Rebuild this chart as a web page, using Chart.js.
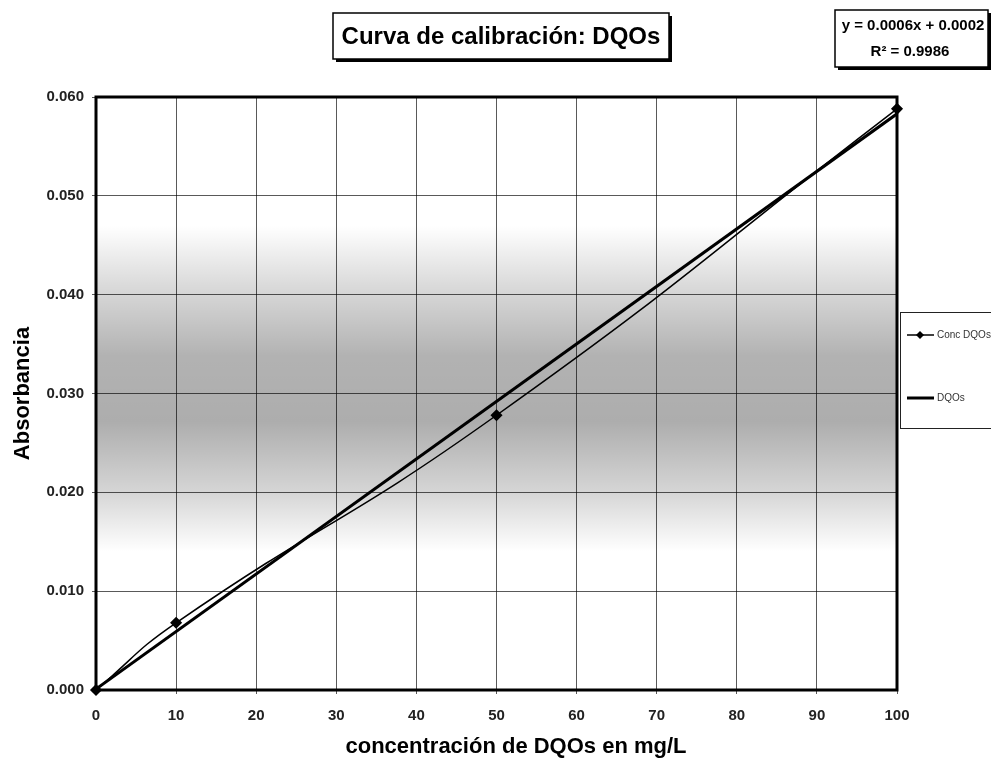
<!DOCTYPE html>
<html>
<head>
<meta charset="utf-8">
<script src="https://cdn.jsdelivr.net/npm/chart.js@4.4.0/dist/chart.umd.min.js"></script>
<style>
  html, body { margin: 0; padding: 0; background: #fff; }
  #wrap { width: 991px; height: 762px; position: relative; }
</style>
</head>
<body>
<div id="wrap"><canvas id="calChart"></canvas></div>
<script>
// data
const concX = [0, 10, 50, 100];
const absorb = [0.0000, 0.0068, 0.0278, 0.0588];
const trendX = [0, 100];
const trendY = [0.0001, 0.0583];
const xTicks = [0, 10, 20, 30, 40, 50, 60, 70, 80, 90, 100];
const yTicks = [0.000, 0.010, 0.020, 0.030, 0.040, 0.050, 0.060];

const FONT = '"Liberation Sans", Arial, sans-serif';

function toPts(xs, ys) {
  return xs.map((x, i) => ({ x: x, y: ys[i] }));
}

// grey scan band behind the grid + white page
const bandPlugin = {
  id: 'band',
  beforeDraw(chart) {
    const { ctx, chartArea: a, scales: { y } } = chart;
    ctx.save();
    ctx.fillStyle = '#fff';
    ctx.fillRect(0, 0, chart.width, chart.height);
    const top = y.getPixelForValue(0.047);
    const bot = y.getPixelForValue(0.014);
    const g = ctx.createLinearGradient(0, top, 0, bot);
    g.addColorStop(0, 'rgba(0,0,0,0)');
    g.addColorStop(0.18, 'rgba(0,0,0,0.14)');
    g.addColorStop(0.4, 'rgba(0,0,0,0.3)');
    g.addColorStop(0.6, 'rgba(0,0,0,0.32)');
    g.addColorStop(0.82, 'rgba(0,0,0,0.16)');
    g.addColorStop(1, 'rgba(0,0,0,0)');
    ctx.fillStyle = g;
    ctx.fillRect(a.left, top, a.right - a.left, bot - top);
    ctx.restore();
  }
};

function boxWithShadow(ctx, x, y, w, h) {
  ctx.fillStyle = '#000';
  ctx.fillRect(x + 3, y + 3, w, h);
  ctx.fillStyle = '#fff';
  ctx.fillRect(x, y, w, h);
  ctx.strokeStyle = '#000';
  ctx.lineWidth = 1.5;
  ctx.strokeRect(x, y, w, h);
}

// plot frame, title box, equation box, legend, x title
const decorPlugin = {
  id: 'decor',
  afterDraw(chart) {
    const { ctx, chartArea: a } = chart;
    ctx.save();
    ctx.strokeStyle = '#000';
    ctx.lineWidth = 3;
    ctx.strokeRect(a.left, a.top, a.right - a.left, a.bottom - a.top);

    // title
    boxWithShadow(ctx, 333, 13, 336, 46);
    ctx.fillStyle = '#000';
    ctx.textAlign = 'center';
    ctx.textBaseline = 'middle';
    ctx.font = 'bold 24px ' + FONT;
    ctx.fillText('Curva de calibración: DQOs', 501, 37);

    // trendline equation
    boxWithShadow(ctx, 835, 10, 153, 57);
    ctx.fillStyle = '#000';
    ctx.font = 'bold 15px ' + FONT;
    ctx.fillText('y = 0.0006x + 0.0002', 913, 26);
    ctx.fillText('R² = 0.9986', 910, 52);

    // x axis title
    ctx.font = 'bold 22px ' + FONT;
    ctx.fillText('concentración de DQOs en mg/L', 516, 747);

    // legend
    ctx.fillStyle = '#fff';
    ctx.fillRect(900, 312, 100, 116);
    ctx.strokeStyle = '#222';
    ctx.lineWidth = 1;
    ctx.strokeRect(900.5, 312.5, 100, 116);
    const items = chart.data.datasets;
    const rows = [335, 398];
    items.forEach((ds, i) => {
      const yy = rows[i];
      ctx.strokeStyle = '#000';
      ctx.lineWidth = ds.borderWidth;
      ctx.beginPath();
      ctx.moveTo(907, yy);
      ctx.lineTo(934, yy);
      ctx.stroke();
      if (ds.pointRadius > 0) {
        ctx.fillStyle = '#000';
        ctx.beginPath();
        ctx.moveTo(920, yy - 4);
        ctx.lineTo(924, yy);
        ctx.lineTo(920, yy + 4);
        ctx.lineTo(916, yy);
        ctx.closePath();
        ctx.fill();
      }
      ctx.fillStyle = '#333';
      ctx.font = '10px ' + FONT;
      ctx.textAlign = 'left';
      ctx.fillText(ds.label, 937, yy);
    });
    ctx.restore();
  }
};

new Chart(document.getElementById('calChart'), {
  type: 'scatter',
  data: {
    datasets: [
      {
        label: 'Conc DQOs',
        data: toPts(concX, absorb),
        showLine: true,
        tension: 0.5,
        clip: false,
        borderColor: '#000',
        backgroundColor: '#000',
        borderWidth: 1.5,
        pointStyle: 'rectRot',
        pointRadius: 5,
        pointHoverRadius: 5
      },
      {
        label: 'DQOs',
        data: toPts(trendX, trendY),
        showLine: true,
        borderColor: '#000',
        backgroundColor: '#000',
        borderWidth: 3,
        pointRadius: 0
      }
    ]
  },
  options: {
    responsive: true,
    maintainAspectRatio: false,
    animation: false,
    layout: { padding: { top: 97, right: 94, left: 0, bottom: 0 } },
    plugins: {
      legend: { display: false },
      title: { display: false },
      tooltip: { enabled: false }
    },
    scales: {
      x: {
        type: 'linear',
        min: 0,
        max: 100,
        afterFit(s) { s.height = 72; },
        afterBuildTicks(s) { s.ticks = xTicks.map(v => ({ value: v })); },
        grid: { color: 'rgba(0,0,0,0.65)', lineWidth: 1, tickLength: 4 },
        border: { display: false },
        ticks: {
          padding: 13,
          color: '#222',
          font: { family: FONT, size: 15, weight: 'bold' }
        }
      },
      y: {
        min: 0,
        max: 0.06,
        afterFit(s) { s.width = 96; },
        afterBuildTicks(s) { s.ticks = yTicks.map(v => ({ value: v })); },
        grid: { color: 'rgba(0,0,0,0.65)', lineWidth: 1, tickLength: 4 },
        border: { display: false },
        ticks: {
          padding: 8,
          color: '#222',
          font: { family: FONT, size: 15, weight: 'bold' },
          callback: v => v.toFixed(3)
        },
        title: {
          display: true,
          text: 'Absorbancia',
          color: '#000',
          padding: { top: 10, bottom: 0 },
          font: { family: FONT, size: 22, weight: 'bold' }
        }
      }
    }
  },
  plugins: [bandPlugin, decorPlugin]
});
</script>
</body>
</html>
